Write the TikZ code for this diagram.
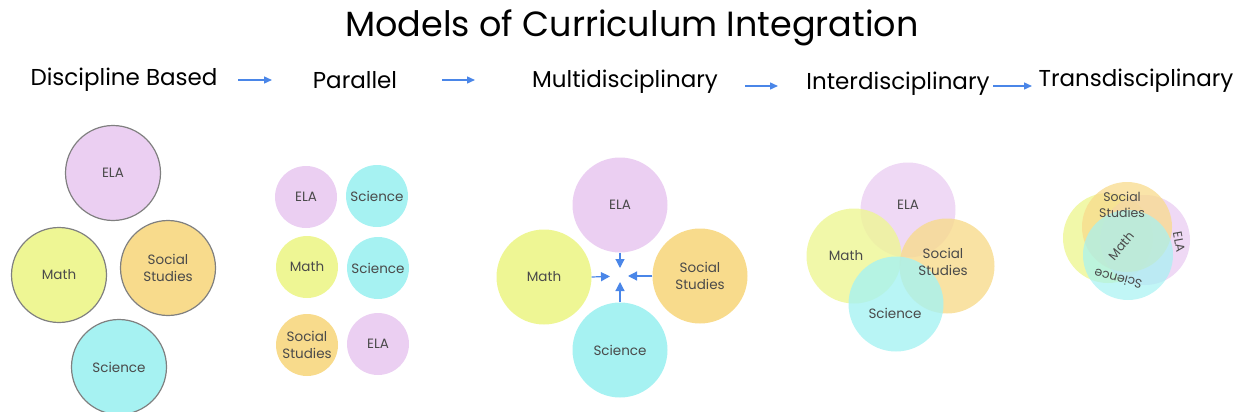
\documentclass[tikz,border=0pt]{standalone}
\usepackage{fontspec}
\setmainfont{Poppins}
\usetikzlibrary{arrows.meta}

\definecolor{elapink}{HTML}{EBCFF2}
\definecolor{mathyellow}{HTML}{EEF694}
\definecolor{socorange}{HTML}{F8DB8C}
\definecolor{scicyan}{HTML}{A6F2F2}
\definecolor{arrowblue}{HTML}{4A86E8}
\definecolor{labelgray}{HTML}{4A4A4A}

\tikzset{
  subject/.style={circle, inner sep=0pt, align=center, text=labelgray,
    font=\fontsize{13.5}{16.5}\selectfont},
  outlined/.style={subject, draw=gray, line width=1.2pt, minimum size=95pt},
  small/.style={subject, minimum size=62pt},
  big/.style={subject, minimum size=95pt},
  tiny/.style={subject, font=\fontsize{12.5}{15.5}\selectfont},
  heading/.style={font=\fontsize{23}{26}\selectfont},
  flow/.style={arrowblue, line width=1.4pt, -{Triangle[length=8pt,width=7pt]}},
  pointer/.style={arrowblue, line width=1.2pt, -{Triangle[length=9pt,width=9pt]}}
}

\begin{document}
\begin{tikzpicture}[x=1pt,y=-1pt]
\useasboundingbox (0,0) rectangle (1234,412);

\node (title) at (632,28) {\fontsize{35}{40}\selectfont Models of Curriculum Integration};

% headings
\node[heading] (hdisc) at (124,80) {Discipline Based};
\node[heading] (hpar) at (355,80) {Parallel};
\node[heading] (hmulti) at (625,82) {Multidisciplinary};
\node[heading] (hinter) at (898,84) {Interdisciplinary};
\node[heading] (htrans) at (1136,81) {Transdisciplinary};

\coordinate (a1s) at (238,80); \coordinate (a1e) at (272,80);
\coordinate (a2s) at (442,80); \coordinate (a2e) at (475,80);
\coordinate (a3s) at (745,86); \coordinate (a3e) at (778,86);
\coordinate (a4s) at (993,86); \coordinate (a4e) at (1032,86);
\draw[flow] (a1s) -- (a1e);
\draw[flow] (a2s) -- (a2e);
\draw[flow] (a3s) -- (a3e);
\draw[flow] (a4s) -- (a4e);

% discipline based
\node[outlined, fill=elapink] (dELA) at (113,173) {ELA};
\node[outlined, fill=mathyellow] (dMath) at (59,275) {Math};
\node[outlined, fill=socorange] (dSoc) at (168,268) {Social\\Studies};
\node[outlined, fill=scicyan] (dSci) at (119,367) {Science};

% parallel
\node[small, fill=elapink] (pELA) at (306,197) {ELA};
\node[small, fill=scicyan] (pSciA) at (377,196) {Science};
\node[small, fill=mathyellow] (pMath) at (307,267) {Math};
\node[small, fill=scicyan] (pSciB) at (378,268) {Science};
\node[small, fill=socorange] (pSoc) at (307,345) {Social\\Studies};
\node[small, fill=elapink] (pELAb) at (378,344) {ELA};

% multidisciplinary
\node[big, fill=elapink] (mELA) at (620,205) {ELA};
\node[big, fill=mathyellow] (mMath) at (544,277) {Math};
\node[big, fill=socorange] (mSoc) at (700,276) {Social\\Studies};
\node[big, fill=scicyan] (mSci) at (620,350) {Science};
\coordinate (mc) at (620,276);
\draw[pointer, shorten >=8pt] (mELA.south) -- (mc);
\draw[pointer, shorten >=10pt] (mMath.east) -- (mc);
\draw[pointer, shorten >=8pt] (mSoc.west) -- (mc);
\draw[pointer, shorten >=6pt] (mSci.north) -- (mc);

% interdisciplinary
\fill[elapink, opacity=0.8] (908,210) circle (47.5);
\fill[mathyellow, opacity=0.8] (854,256) circle (47.5);
\fill[socorange, opacity=0.8] (947,266) circle (47.5);
\fill[scicyan, opacity=0.8] (896,304) circle (47.5);
\node[subject] (iELA) at (908,205) {ELA};
\node[subject] (iMath) at (846,256) {Math};
\node[subject] (iSoc) at (943,262) {Social\\Studies};
\node[subject] (iSci) at (895,313) {Science};

% transdisciplinary
\fill[mathyellow, opacity=0.8] (1108,238) circle (45);
\fill[elapink, opacity=0.8] (1145,240) circle (45);
\fill[socorange, opacity=0.75] (1127,227) circle (45);
\fill[scicyan, opacity=0.7] (1128,255) circle (45);
\node[tiny] (tSoc) at (1122,205) {Social\\Studies};
\node[tiny, rotate=50] (tMath) at (1121,246) {Math};
\node[tiny, rotate=-80] (tELA) at (1179,242) {ELA};
\node[tiny, rotate=165] (tSci) at (1118,279) {Science};

\end{tikzpicture}
\end{document}
